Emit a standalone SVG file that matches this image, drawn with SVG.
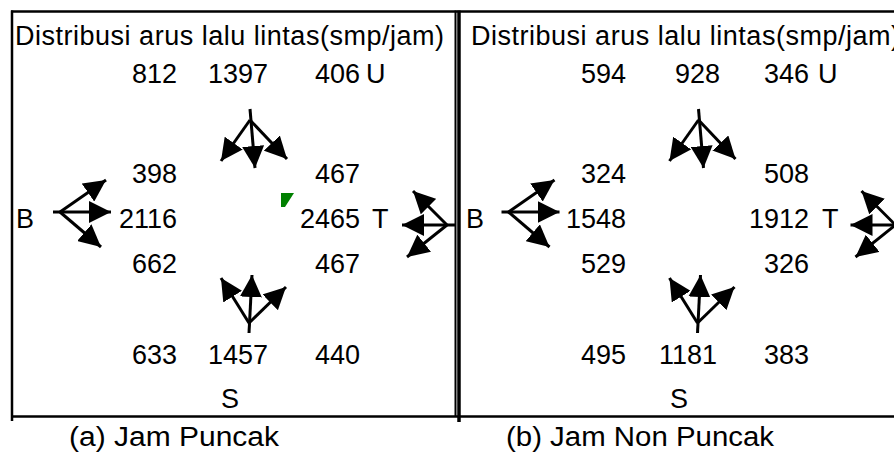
<svg xmlns="http://www.w3.org/2000/svg" width="894" height="455" viewBox="0 0 894 455">
<style>
  text { font-family: "Liberation Sans", Arial, sans-serif; font-size: 27px; fill: #000; }
  .title { font-size: 27px; }
  .cap { font-size: 27px; }
  .end { text-anchor: end; }
  .mid { text-anchor: middle; }
  .frame { stroke: #000; fill: none; }
  .arr { stroke: #000; stroke-width: 3; fill: none; marker-end: url(#head); }
</style>
<defs>
  <marker id="head" markerUnits="userSpaceOnUse" viewBox="0 0 22 22" refX="22" refY="11" markerWidth="22" markerHeight="22" orient="auto">
    <path d="M0,0 L22,11 L0,22 z" fill="#000"/>
  </marker>
  <g id="arrowSet">
    <line class="arr" x1="250" y1="109" x2="255" y2="168"/>
    <line class="arr" x1="250" y1="120" x2="221" y2="161"/>
    <line class="arr" x1="250" y1="120" x2="287" y2="159"/>
    <line class="arr" x1="53" y1="212" x2="111" y2="212"/>
    <line class="arr" x1="60" y1="212" x2="106" y2="180"/>
    <line class="arr" x1="60" y1="212" x2="101" y2="247"/>
    <line class="arr" x1="456" y1="225" x2="402" y2="225"/>
    <line class="arr" x1="447" y1="225" x2="413" y2="191"/>
    <line class="arr" x1="447" y1="225" x2="407" y2="257"/>
    <line class="arr" x1="249" y1="333" x2="252" y2="275"/>
    <line class="arr" x1="249" y1="323" x2="221" y2="278"/>
    <line class="arr" x1="249" y1="323" x2="286" y2="287"/>
  </g>
</defs>

<g id="frame">
  <line class="frame" stroke-width="2.5" x1="11" y1="11.5" x2="894" y2="11.5"/>
  <line class="frame" stroke-width="2.5" x1="11" y1="416.5" x2="894" y2="416.5"/>
  <line class="frame" stroke-width="2.5" x1="12" y1="10.5" x2="12" y2="421"/>
  <line class="frame" stroke-width="2" x1="455.5" y1="10.5" x2="455.5" y2="417"/>
  <line class="frame" stroke-width="3.5" x1="459" y1="10.5" x2="459" y2="422"/>
</g>

<g id="connectors">
  <use href="#arrowSet"/>
  <use href="#arrowSet" transform="translate(448.5,0)"/>
</g>

<g id="panel-a">
  <text class="title" x="15" y="45" textLength="429" lengthAdjust="spacing">Distribusi arus lalu lintas(smp/jam)</text>
  <g id="a-north">
    <text class="end" x="177" y="83">812</text>
    <text class="mid" x="238" y="83">1397</text>
    <text class="end" x="360" y="83">406</text>
    <text x="366" y="83">U</text>
  </g>
  <g id="a-west">
    <text class="end" x="177" y="183">398</text>
    <text x="16" y="228">B</text>
    <text class="end" x="177" y="228">2116</text>
    <text class="end" x="177" y="273">662</text>
  </g>
  <g id="a-east">
    <text class="end" x="360" y="183">467</text>
    <text class="end" x="360" y="228">2465</text>
    <text x="372" y="228">T</text>
    <text class="end" x="360" y="273">467</text>
  </g>
  <g id="a-south">
    <text class="end" x="177" y="364">633</text>
    <text class="mid" x="238" y="364">1457</text>
    <text class="end" x="360" y="364">440</text>
    <text x="221" y="408">S</text>
  </g>
  <polygon id="a-mark" points="281,193 294,193 285,207 281,207" fill="#008000"/>
  <text class="cap" x="69" y="446" textLength="210" lengthAdjust="spacingAndGlyphs">(a)  Jam Puncak</text>
</g>

<g id="panel-b">
  <text class="title" x="471" y="45" textLength="429" lengthAdjust="spacing">Distribusi arus lalu lintas(smp/jam)</text>
  <g id="b-north">
    <text class="end" x="626" y="83">594</text>
    <text class="mid" x="697.5" y="83">928</text>
    <text class="end" x="809" y="83">346</text>
    <text x="818" y="83">U</text>
  </g>
  <g id="b-west">
    <text class="end" x="626" y="183">324</text>
    <text x="466" y="228">B</text>
    <text class="end" x="626" y="228">1548</text>
    <text class="end" x="626" y="273">529</text>
  </g>
  <g id="b-east">
    <text class="end" x="809" y="183">508</text>
    <text class="end" x="809" y="228">1912</text>
    <text x="822" y="228">T</text>
    <text class="end" x="809" y="273">326</text>
  </g>
  <g id="b-south">
    <text class="end" x="626" y="364">495</text>
    <text class="mid" x="688" y="364">1181</text>
    <text class="end" x="809" y="364">383</text>
    <text x="670" y="408">S</text>
  </g>
  <text class="cap" x="506" y="446" textLength="268" lengthAdjust="spacingAndGlyphs">(b) Jam Non Puncak</text>
</g>
</svg>
